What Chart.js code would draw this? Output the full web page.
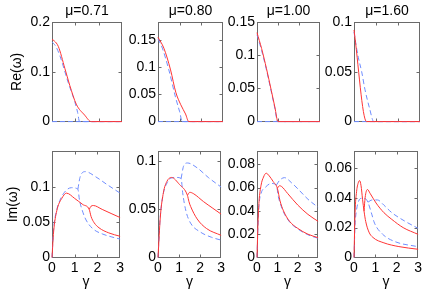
<!DOCTYPE html>
<html>
<head>
<meta charset="utf-8">
<script src="https://cdn.jsdelivr.net/npm/chart.js@4.4.0/dist/chart.umd.min.js"></script>
<style>
  html, body { margin: 0; padding: 0; background: #fff; }
  #fig { position: relative; width: 436px; height: 298px; overflow: hidden; }
  #fig canvas { position: absolute; }
</style>
</head>
<body>
<div id="fig"></div>
<script>
// values: [gamma, value]
const gammaTicks = [0, 1, 2, 3];
const muLabels = ['μ=0.71', 'μ=0.80', 'μ=1.00', 'μ=1.60'];

const reMax = [0.2, 0.183, 0.15, 0.1];
const reTicks = [[0, 0.1, 0.2], [0, 0.05, 0.1, 0.15], [0, 0.05, 0.1, 0.15], [0, 0.05, 0.1]];
const imMax = [0.15, 0.11, 0.091, 0.071];
const imTicks = [[0, 0.05, 0.1], [0, 0.05, 0.1], [0, 0.02, 0.04, 0.06, 0.08], [0, 0.02, 0.04, 0.06]];

// Re(omega), top row
const reFloor = [[0, 0], [3, 0]];
const reRed071 = [[0, 0.165], [0.1, 0.162], [0.27, 0.151], [0.55, 0.107], [0.76, 0.073], [1.04, 0.035], [1.4, 0.013], [1.68, 0], [3, 0]];
const reBlue071 = [[0, 0.16], [0.15, 0.152], [0.34, 0.132], [0.69, 0.079], [0.97, 0.041], [1.1, 0.018], [1.18, 0], [3, 0]];
const reRed080 = [[0, 0.155], [0.27, 0.135], [0.58, 0.095], [0.82, 0.054], [1.05, 0.031], [1.27, 0.014], [1.42, 0], [3, 0]];
const reBlue080 = [[0, 0.152], [0.2, 0.135], [0.5, 0.095], [0.82, 0.043], [1.0, 0.018], [1.12, 0], [3, 0]];
const reRed100 = [[0, 0.134], [0.22, 0.11], [0.45, 0.08], [0.68, 0.047], [0.85, 0.022], [1.0, 0], [3, 0]];
const reBlue100 = [[0, 0.131], [0.22, 0.107], [0.45, 0.078], [0.68, 0.045], [0.85, 0.02], [0.98, 0], [3, 0]];
const reRed160 = [[0, 0.092], [0.57, 0], [3, 0]];
const reBlue160 = [[0, 0.09], [0.1, 0.076], [0.2, 0.064], [0.35, 0.05], [0.5, 0.032], [0.7, 0.014], [0.9, 0], [3, 0]];

// Im(omega), bottom row: two branches per colour
const imRedA071 = [[0, 0], [0.07, 0.036], [0.21, 0.066], [0.43, 0.0835], [0.64, 0.091], [1.0, 0.0835], [1.36, 0.0748], [1.64, 0.068], [1.72, 0.058], [1.86, 0.049], [2.07, 0.042], [2.5, 0.0348], [3, 0.030]];
const imRedB071 = [[1.64, 0.068], [1.72, 0.0725], [1.82, 0.0735], [2.21, 0.068], [2.64, 0.0617], [3, 0.0565]];
const imBlueA071 = [[0, 0], [0.07, 0.04], [0.2, 0.066], [0.35, 0.081], [0.5, 0.09], [0.7, 0.097], [0.86, 0.0987], [1.14, 0.0966], [1.21, 0.0813], [1.36, 0.064], [1.5, 0.053], [1.79, 0.0409], [2.21, 0.0334], [2.64, 0.029], [3, 0.026]];
const imBlueB071 = [[1.14, 0.0966], [1.24, 0.114], [1.47, 0.1214], [1.93, 0.114], [2.43, 0.103], [3, 0.091]];

const imRedA080 = [[0, 0], [0.11, 0.042], [0.26, 0.0676], [0.42, 0.0788], [0.64, 0.083], [1.02, 0.0757], [1.4, 0.0644], [1.47, 0.058], [1.55, 0.053], [1.86, 0.040], [2.31, 0.030], [3, 0.023]];
const imRedB080 = [[1.4, 0.0644], [1.51, 0.0676], [1.7, 0.066], [2.16, 0.058], [2.61, 0.051], [3, 0.045]];
const imBlueA080 = [[0, 0], [0.1, 0.04], [0.25, 0.066], [0.45, 0.078], [0.65, 0.0825], [0.87, 0.083], [1.1, 0.082], [1.17, 0.0676], [1.33, 0.048], [1.55, 0.0356], [2.0, 0.0266], [2.54, 0.021], [3, 0.018]];
const imBlueB080 = [[1.1, 0.082], [1.22, 0.095], [1.4, 0.098], [1.86, 0.093], [2.39, 0.083], [3, 0.073]];

const imRedA100 = [[0, 0], [0.05, 0.03], [0.1, 0.048], [0.2, 0.062], [0.32, 0.069], [0.45, 0.0723], [0.6, 0.07], [0.8, 0.065], [1.0, 0.0594], [1.13, 0.0486], [1.3, 0.04], [1.6, 0.031], [2.0, 0.025], [2.5, 0.02], [3, 0.017]];
const imRedB100 = [[1.0, 0.0594], [1.1, 0.0615], [1.2, 0.061], [1.5, 0.055], [2.0, 0.045], [2.5, 0.037], [3, 0.031]];
const imBlueA100 = [[0, 0], [0.05, 0.028], [0.1, 0.045], [0.2, 0.055], [0.4, 0.06], [0.7, 0.0635], [0.95, 0.062], [1.05, 0.052], [1.15, 0.046], [1.3, 0.039], [1.6, 0.0305], [2.0, 0.0245], [2.5, 0.0195], [3, 0.0165]];
const imBlueB100 = [[0.95, 0.062], [1.1, 0.066], [1.35, 0.0685], [1.7, 0.064], [2.0, 0.059], [2.5, 0.05], [3, 0.043]];

const imRedA160 = [[0, 0], [0.05, 0.03], [0.12, 0.044], [0.2, 0.05], [0.26, 0.0515], [0.33, 0.048], [0.4, 0.039], [0.47, 0.031], [0.55, 0.024], [0.7, 0.017], [0.88, 0.0135], [1.4, 0.0098], [2.1, 0.0073], [3, 0.0055]];
const imRedB160 = [[0.47, 0.031], [0.52, 0.04], [0.63, 0.0455], [0.75, 0.043], [1.03, 0.0365], [1.4, 0.030], [1.77, 0.0255], [2.3, 0.020], [3, 0.0155]];
const imBlueA160 = [[0, 0], [0.05, 0.022], [0.1, 0.03], [0.21, 0.0375], [0.36, 0.0396], [0.55, 0.0392], [0.65, 0.037], [0.81, 0.03], [0.96, 0.023], [1.33, 0.0157], [1.92, 0.0106], [3, 0.0072]];
const imBlueB160 = [[0.65, 0.037], [0.85, 0.0385], [1.1, 0.0385], [1.4, 0.035], [1.77, 0.030], [2.37, 0.0244], [3, 0.0195]];

const reRed = [reRed071, reRed080, reRed100, reRed160];
const reBlue = [reBlue071, reBlue080, reBlue100, reBlue160];
const imRed = [[imRedA071, imRedB071], [imRedA080, imRedB080], [imRedA100, imRedB100], [imRedA160, imRedB160]];
const imBlue = [[imBlueA071, imBlueB071], [imBlueA080, imBlueB080], [imBlueA100, imBlueB100], [imBlueA160, imBlueB160]];

// layout of the 2x4 grid (plot-area edges in page pixels)
const colLeft = [52, 158, 257, 354];
const colRight = [122, 223, 320, 420];
const FONT = { family: 'Liberation Sans, Arial, Helvetica, sans-serif', size: 14, lineHeight: 1.2, weight: 'normal' };
const RED = '#ff3434';
const BLUE = '#6f8dff';
const FRAME = '#6a6a6a';

// box round the plot area with inward ticks, like the original
const framePlugin = {
	id: 'frame',
	beforeDatasetsDraw(chart) {
		const { ctx, chartArea: a, scales } = chart;
		const l = Math.round(a.left) + 0.5, r = Math.round(a.right) - 0.5;
		const t = Math.round(a.top) + 0.5, b = Math.round(a.bottom) - 0.5;
		ctx.save();
		ctx.strokeStyle = FRAME;
		ctx.lineWidth = 1;
		ctx.strokeRect(l, t, r - l, b - t);
		ctx.beginPath();
		for (const tk of scales.x.ticks) {
			const px = Math.round(scales.x.getPixelForValue(tk.value)) + 0.5;
			if (px - l < 2 || r - px < 2) continue;
			ctx.moveTo(px, b); ctx.lineTo(px, b - 3);
			ctx.moveTo(px, t); ctx.lineTo(px, t + 3);
		}
		for (const tk of scales.y.ticks) {
			const py = Math.round(scales.y.getPixelForValue(tk.value)) + 0.5;
			if (py - t < 2 || b - py < 2) continue;
			ctx.moveTo(l, py); ctx.lineTo(l + 3, py);
			ctx.moveTo(r, py); ctx.lineTo(r - 3, py);
		}
		ctx.stroke();
		ctx.restore();
	}
};

function line(points, color, dashed) {
	return {
		data: points.map(([x, y]) => ({ x, y })),
		borderColor: color,
		borderWidth: 1,
		borderDash: dashed ? [5, 3] : [],
		pointRadius: 0,
		fill: false,
		cubicInterpolationMode: 'monotone',
		clip: false
	};
}

function addPanel(row, col, datasets, yMax, yTicks) {
	const yW = col === 0 ? 52 : 36;
	const padR = 4;
	const top = row === 0 ? 0 : 141;
	// half-pixel x-axis height puts value 0 on a pixel centre
	const xH = row === 0 ? 3.5 : 36.5;
	const h = row === 0 ? 132 : 153;
	const w = colRight[col] - colLeft[col] + yW + padR;

	const canvas = document.createElement('canvas');
	canvas.width = w;
	canvas.height = h;
	canvas.style.left = (colLeft[col] - yW) + 'px';
	canvas.style.top = top + 'px';
	canvas.style.width = w + 'px';
	canvas.style.height = h + 'px';
	document.getElementById('fig').appendChild(canvas);

	new Chart(canvas, {
		type: 'line',
		data: { datasets },
		plugins: [framePlugin],
		options: {
			responsive: false,
			animation: false,
			layout: { padding: { top: row === 0 ? 0 : 2, right: padR, left: 0, bottom: 0 } },
			plugins: {
				legend: { display: false },
				tooltip: { enabled: false },
				title: {
					display: row === 0,
					text: muLabels[col],
					font: FONT,
					color: '#000',
					fullSize: false,
					padding: { top: 3, bottom: 2.2 }
				}
			},
			scales: {
				x: {
					type: 'linear',
					min: 0,
					max: 3,
					afterBuildTicks: s => { s.ticks = gammaTicks.map(v => ({ value: v })); },
					afterFit: s => { s.height = xH; },
					grid: { display: false, drawTicks: false },
					border: { display: false },
					ticks: { display: row === 1, padding: 2, color: '#000', font: FONT, maxRotation: 0, autoSkip: false, callback: v => String(v) },
					title: { display: row === 1, text: 'γ', font: FONT, color: '#000', padding: { top: 0, bottom: 3.2 } }
				},
				y: {
					type: 'linear',
					min: 0,
					max: yMax,
					afterBuildTicks: s => { s.ticks = yTicks.map(v => ({ value: v })); },
					afterFit: s => { s.width = yW; },
					grid: { display: false, drawTicks: false },
					border: { display: false },
					ticks: { padding: 2, color: '#000', font: FONT, autoSkip: false, callback: v => String(v) },
					title: {
						display: col === 0,
						text: row === 0 ? 'Re(ω)' : 'Im(ω)',
						font: FONT,
						color: '#000',
						padding: { top: row === 0 ? 9 : 5, bottom: 0 }
					}
				}
			}
		}
	});
}

for (let c = 0; c < 4; c++) {
	// red first so it is drawn on top of the blue dashed curves
	addPanel(0, c, [
		line(reRed[c], RED, false),
		line(reBlue[c], BLUE, true),
		line(reFloor, BLUE, true)
	], reMax[c], reTicks[c]);

	addPanel(1, c, [
		line(imRed[c][0], RED, false),
		line(imRed[c][1], RED, false),
		line(imBlue[c][0], BLUE, true),
		line(imBlue[c][1], BLUE, true)
	], imMax[c], imTicks[c]);
}
</script>
</body>
</html>
